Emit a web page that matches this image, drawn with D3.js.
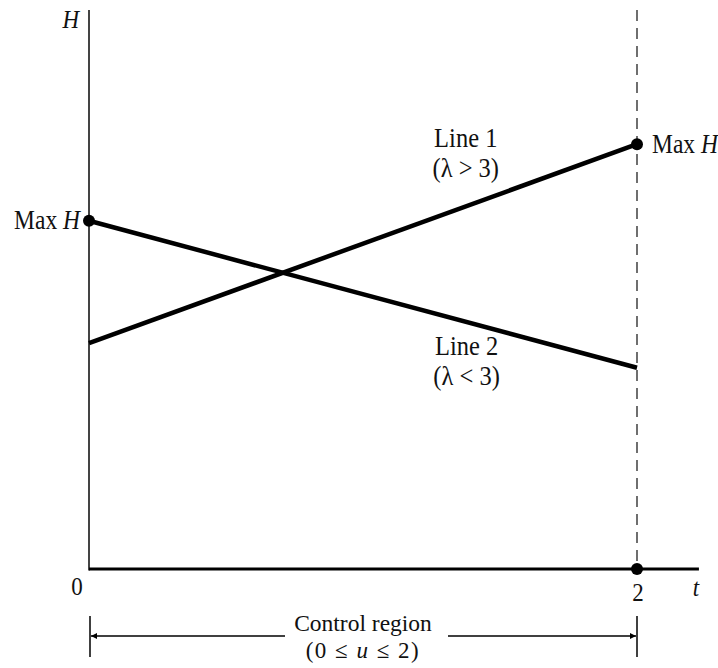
<!DOCTYPE html>
<html>
<head>
<meta charset="utf-8">
<script src="https://cdn.jsdelivr.net/npm/d3@7"></script>
<style>
  html, body { margin: 0; padding: 0; background: #fff; }
  svg { display: block; }
  text { font-family: "Liberation Serif", "Times New Roman", serif; fill: #111; }
</style>
</head>
<body>
<svg id="chart" width="718" height="668"></svg>
<script>
// ---- data ----
const tValues = [0, 2];
const tTickLabels = ["0", "2"];
const line1 = [ {t: 0, H: 40.4}, {t: 2, H: 76.0} ];
const line2 = [ {t: 0, H: 62.3}, {t: 2, H: 36.0} ];
const maxPoints = [ {t: 0, H: 62.3, label: "Max H", side: "left"}, {t: 2, H: 76.0, label: "Max H", side: "right"} ];
const zeroPoint = [ {t: 2, H: 0} ];
const lineLabels = [
  {t: 1.375, H: 75.5, lines: ["Line 1", "(λ > 3)"]},
  {t: 1.378, H: 38.2, lines: ["Line 2", "(λ < 3)"]}
];
const regionLabel = ["Control region", "(0 ≤ u ≤ 2)"];
const tMax = 2.226;
const HMax = 100;

// ---- scales ----
const svg = d3.select("#chart");
const x = d3.scaleLinear().domain([0, 2]).range([89, 637]);
const y = d3.scaleLinear().domain([0, HMax]).range([569, 10]);

function stretched(sel, sy) {
  sel.attr("transform", function() {
    const tx = +this.getAttribute("data-x"), ty = +this.getAttribute("data-y");
    return `translate(${tx},${ty}) scale(1,${sy})`;
  }).attr("x", 0).attr("y", 0);
}

// dashed boundary line at t=2
svg.append("line")
  .attr("x1", x(2)).attr("x2", x(2))
  .attr("y1", y(HMax)).attr("y2", y(0))
  .attr("stroke", "#222").attr("stroke-width", 1.3)
  .attr("stroke-dasharray", "11,7");

// y axis
svg.append("line")
  .attr("x1", x(0)).attr("x2", x(0))
  .attr("y1", y(HMax)).attr("y2", y(0) + 1.5)
  .attr("stroke", "#444").attr("stroke-width", 2);

// x axis
svg.append("line")
  .attr("x1", x(0)).attr("x2", x(tMax))
  .attr("y1", y(0)).attr("y2", y(0))
  .attr("stroke", "#000").attr("stroke-width", 3);

// lines
const lineGen = d3.line().x(d => x(d.t)).y(d => y(d.H));
[line1, line2].forEach(data => {
  svg.append("path").datum(data)
    .attr("d", lineGen)
    .attr("fill", "none").attr("stroke", "#000")
    .attr("stroke-width", 4.5).attr("stroke-linecap", "butt");
});

// points
svg.selectAll("circle.max").data(maxPoints.concat(zeroPoint)).enter()
  .append("circle")
  .attr("cx", d => x(d.t)).attr("cy", d => y(d.H)).attr("r", 6)
  .attr("fill", "#000");

// Max H labels
maxPoints.forEach(d => {
  const t = svg.append("text")
    .attr("data-x", d.side === "left" ? x(d.t) - 9 : x(d.t) + 15)
    .attr("data-y", y(d.H) + (d.side === "left" ? 8 : 9))
    .attr("text-anchor", d.side === "left" ? "end" : "start")
    .attr("font-size", 23.5);
  t.append("tspan").text("Max ");
  t.append("tspan").attr("font-style", "italic").text("H");
  stretched(t, 1.12);
});

// line labels
lineLabels.forEach(d => {
  d.lines.forEach((s, i) => {
    const t = svg.append("text")
      .attr("data-x", x(d.t))
      .attr("data-y", y(d.H) + i * 30)
      .attr("text-anchor", "middle")
      .attr("font-size", 24.5)
      .text(s);
    stretched(t, 1.1);
  });
});

// axis labels
const hl = svg.append("text").attr("data-x", 79).attr("data-y", 28)
  .attr("text-anchor", "end").attr("font-size", 23).attr("font-style", "italic").text("H");
stretched(hl, 1.12);
const tl = svg.append("text").attr("data-x", x(tMax) - 3).attr("data-y", 596)
  .attr("text-anchor", "middle").attr("font-size", 23).attr("font-style", "italic").text("t");
stretched(tl, 1.12);

tValues.forEach((v, i) => {
  const t = svg.append("text")
    .attr("data-x", x(v) + (i === 0 ? -12 : 1))
    .attr("data-y", i === 0 ? 595 : 601)
    .attr("text-anchor", "middle").attr("font-size", 23)
    .text(tTickLabels[i]);
  stretched(t, 1.12);
});

// control region bracket
const defs = svg.append("defs");
defs.append("marker").attr("id", "arr")
  .attr("viewBox", "0 0 10 10").attr("refX", 10).attr("refY", 5)
  .attr("markerWidth", 9).attr("markerHeight", 6)
  .attr("markerUnits", "userSpaceOnUse")
  .attr("orient", "auto-start-reverse")
  .append("path").attr("d", "M0,0 L10,5 L0,10 z").attr("fill", "#000");

const by = 636;
[0, 2].forEach(v => {
  svg.append("line")
    .attr("x1", x(v) + (v === 0 ? 1 : 0)).attr("x2", x(v) + (v === 0 ? 1 : 0))
    .attr("y1", 616).attr("y2", 657)
    .attr("stroke", "#000").attr("stroke-width", 1.5);
});
svg.append("line")
  .attr("x1", x(0) + 2).attr("x2", 285).attr("y1", by).attr("y2", by)
  .attr("stroke", "#000").attr("stroke-width", 1.5)
  .attr("marker-start", "url(#arr)");
svg.append("line")
  .attr("x1", 448).attr("x2", x(2) - 1).attr("y1", by).attr("y2", by)
  .attr("stroke", "#000").attr("stroke-width", 1.5)
  .attr("marker-end", "url(#arr)");

const cx = (x(0) + x(2)) / 2;
svg.append("text").attr("x", cx).attr("y", 631)
  .attr("text-anchor", "middle").attr("font-size", 23.5).text(regionLabel[0]);
const r2 = svg.append("text").attr("x", cx).attr("y", 658)
  .attr("text-anchor", "middle").attr("font-size", 23)
  .attr("letter-spacing", 1.5);
r2.append("tspan").text("(0 ≤ ");
r2.append("tspan").attr("font-style", "italic").text("u");
r2.append("tspan").text(" ≤ 2)");
</script>
</body>
</html>
